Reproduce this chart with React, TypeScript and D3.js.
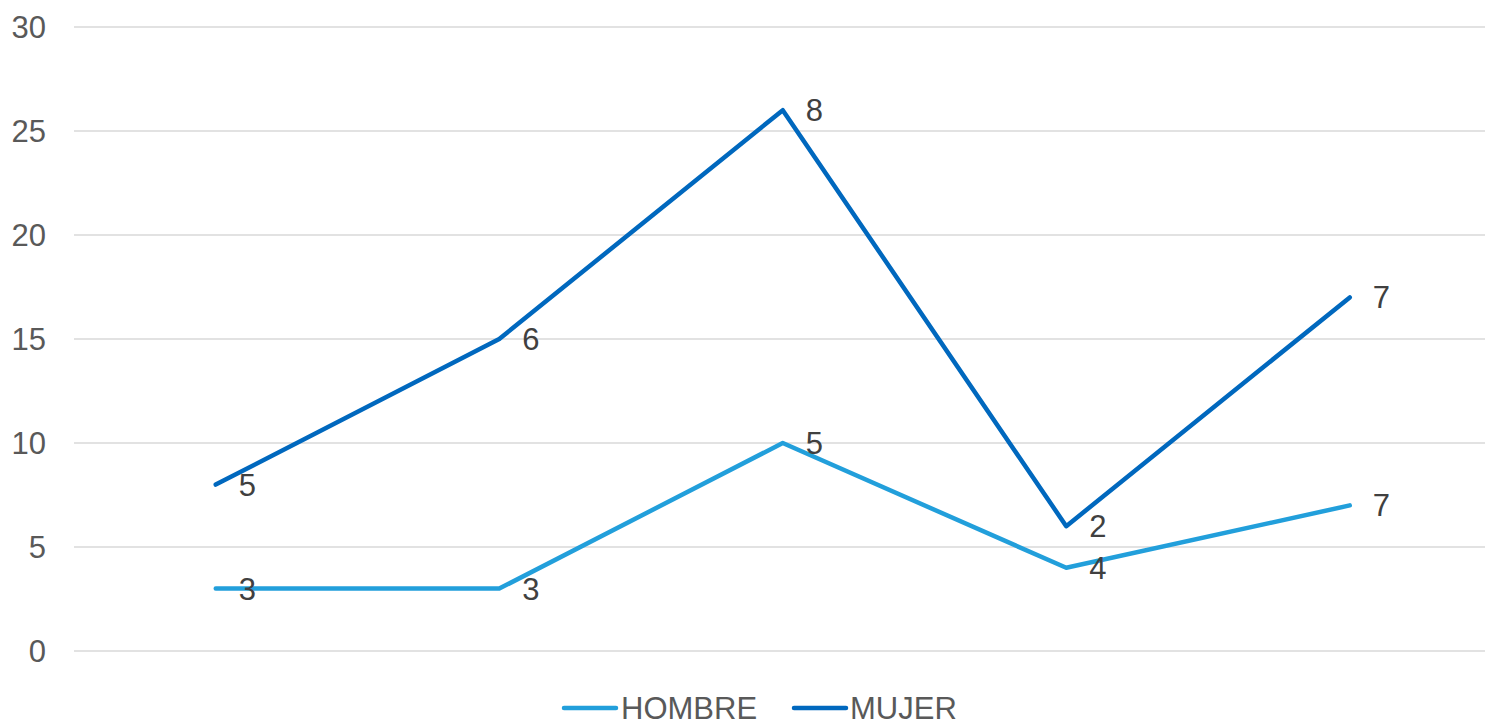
import React, { useEffect, useRef } from 'react'
import * as d3 from 'd3'

const categories = ['C1', 'C2', 'C3', 'C4', 'C5']
const hombreValues = [3, 3, 10, 4, 7]
const mujerValues = [8, 15, 26, 6, 17]
const hombreLabels = ['3', '3', '5', '4', '7']
const mujerLabels = ['5', '6', '8', '2', '7']
const yTicks = [0, 5, 10, 15, 20, 25, 30]

export default function App() {
  const svgRef = useRef<SVGSVGElement | null>(null)

  useEffect(() => {
    if (!svgRef.current) return
    const width = 1485
    const height = 720
    const svg = d3.select(svgRef.current)
    svg.selectAll('*').remove()
    svg.attr('width', width).attr('height', height)

    const font = '"Liberation Sans", Arial, sans-serif'

    const x = d3.scalePoint<string>()
      .domain(categories)
      .range([74, 1491.5])
      .padding(0.5)

    const y = d3.scaleLinear().domain([0, 30]).range([651, 27])

    // gridlines
    svg.append('g')
      .selectAll('line')
      .data(yTicks)
      .enter()
      .append('line')
      .attr('x1', 74)
      .attr('x2', width)
      .attr('y1', d => y(d))
      .attr('y2', d => y(d))
      .attr('stroke', '#d9d9d9')
      .attr('stroke-width', 1.5)

    // y tick labels
    svg.append('g')
      .selectAll('text')
      .data(yTicks)
      .enter()
      .append('text')
      .attr('x', 46)
      .attr('y', d => y(d) + 11)
      .attr('text-anchor', 'end')
      .style('font-family', font)
      .style('font-size', '31px')
      .attr('fill', '#595959')
      .text(d => d)

    const series = [
      { name: 'HOMBRE', values: hombreValues, labels: hombreLabels, color: '#229FDB' },
      { name: 'MUJER', values: mujerValues, labels: mujerLabels, color: '#0068BE' }
    ]

    const line = d3.line<number>()
      .x((_, i) => x(categories[i]) as number)
      .y(d => y(d))

    series.forEach(s => {
      svg.append('path')
        .datum(s.values)
        .attr('d', line)
        .attr('fill', 'none')
        .attr('stroke', s.color)
        .attr('stroke-width', 4.5)
        .attr('stroke-linecap', 'round')
        .attr('stroke-linejoin', 'round')
    })

    series.forEach(s => {
      svg.append('g')
        .selectAll('text')
        .data(s.values)
        .enter()
        .append('text')
        .attr('x', (_, i) => (x(categories[i]) as number) + 23)
        .attr('y', d => y(d) + 11)
        .style('font-family', font)
        .style('font-size', '31px')
        .attr('fill', '#404040')
        .text((_, i) => s.labels[i])
    })

    // legend
    const legendItems = [
      { ...series[0], x1: 564, tx: 621 },
      { ...series[1], x1: 794, tx: 850 }
    ]
    const lg = svg.append('g')
    legendItems.forEach(it => {
      lg.append('line')
        .attr('x1', it.x1)
        .attr('x2', it.x1 + 52)
        .attr('y1', 708)
        .attr('y2', 708)
        .attr('stroke', it.color)
        .attr('stroke-width', 4.5)
        .attr('stroke-linecap', 'round')
      lg.append('text')
        .attr('x', it.tx)
        .attr('y', 719)
        .style('font-family', font)
        .style('font-size', '31px')
        .attr('fill', '#595959')
        .text(it.name)
    })
  }, [])

  return (
    <div style={{ position: 'absolute', left: 0, top: 0 }}>
      <svg ref={svgRef} style={{ display: 'block' }}></svg>
    </div>
  )
}
